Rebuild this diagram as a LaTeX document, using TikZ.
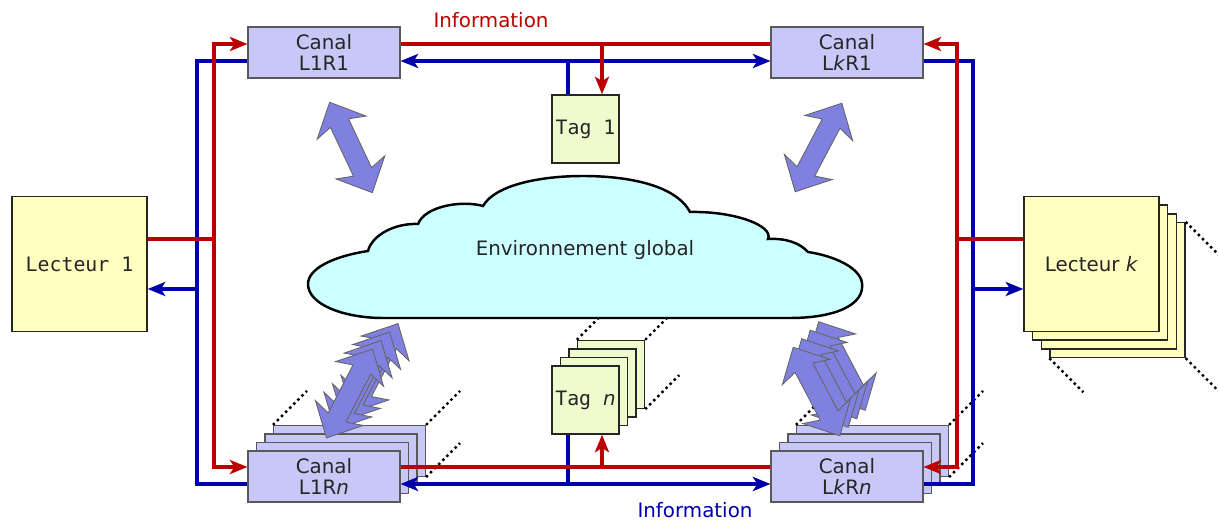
\documentclass[tikz,border=0pt]{standalone}
\usepackage{fontspec}
\setmainfont{DejaVu Sans}
\setsansfont{DejaVu Sans}
\setmonofont{DejaVu Sans Mono}
\usetikzlibrary{arrows.meta}
\definecolor{infored}{HTML}{BB0000}
\definecolor{infoblue}{HTML}{0000AA}
\definecolor{canalfill}{HTML}{C8C8F8}
\definecolor{lectfill}{HTML}{FFFFC0}
\definecolor{tagfill}{HTML}{EFFBCD}
\definecolor{envfill}{HTML}{CCFFFF}
\definecolor{wavefill}{HTML}{8080E0}

\begin{document}
\begin{tikzpicture}[x = 0.02cm, y = -0.02cm,
                    >={Stealth[length = 10pt, width = 8pt, inset = 2.5pt]}]
\tikzstyle{TextStyle}=[font = \fontsize{11.3}{12}\selectfont, text = black!85]
\tikzstyle{CanalStyle}=[TextStyle, shape = rectangle,
                        draw = black!65, line width = 0.6pt, fill = canalfill,
                        minimum width = 3.04cm, minimum height = 1.02cm,
                        inner sep = 0pt, align = center]
\tikzstyle{LecteurStyle}=[TextStyle, shape = rectangle,
                          draw = black!85, line width = 0.8pt, fill = lectfill,
                          minimum size = 2.7cm, inner sep = 0pt]
\tikzstyle{TagStyle}=[TextStyle, shape = rectangle,
                      draw = black!85, line width = 0.8pt, fill = tagfill,
                      minimum width = 1.34cm, minimum height = 1.36cm, inner sep = 0pt]
\tikzstyle{RedLine}=[draw = infored, line width = 1.9pt]
\tikzstyle{BlueLine}=[draw = infoblue, line width = 1.9pt]
\tikzstyle{DotStyle}=[draw = black, line width = 1.4pt, dash pattern = on 1.4pt off 1.9pt]
\tikzstyle{WaveStyle}=[fill = wavefill, draw = black!60, line width = 0.5pt]
\tikzstyle{EnvStyle}=[fill = envfill, draw = black, line width = 1.4pt]
\useasboundingbox (0,0) rectangle (1218,520);
\foreach \i in {3,2,1} {
  \node[CanalStyle] (c1n\i) at (324 + 8.5*\i, 476.5 - 8.5*\i) {};
  \node[CanalStyle] (ckn\i) at (847 + 8.5*\i, 476.5 - 8.5*\i) {};
  \node[TagStyle] (tn\i) at (585.5 + 8.5*\i, 400 - 8.5*\i) {};
  \node[LecteurStyle] (lk\i) at (1091.5 + 8.67*\i, 264 + 8.67*\i) {};
}
\node[CanalStyle] (c11) at (324,52.5) {Canal\\L1R1};
\node[CanalStyle] (ck1) at (847,52.5) {Canal\\L\textit{k}R1};
\node[CanalStyle] (c1n) at (324,476.5) {Canal\\L1R\textit{n}};
\node[CanalStyle] (ckn) at (847,476.5) {Canal\\L\textit{k}R\textit{n}};
\node[TagStyle] (t1) at (585.5,129) {\texttt{Tag 1}};
\node[TagStyle] (tn) at (585.5,400) {\texttt{Tag\ }\textit{n}};
\node[LecteurStyle] (l1) at (79.5,264) {\texttt{Lecteur 1}};
\node[LecteurStyle] (lk) at (1091.5,264) {Lecteur \textit{k}};
\foreach \s in {c1n3, ckn3, tn3} {
  \draw[DotStyle] (\s.north west) -- ++(34,-34);
  \draw[DotStyle] (\s.north east) -- ++(34,-34);
  \draw[DotStyle] (\s.south east) -- ++(34,-34);
}
\draw[DotStyle] (lk3.north east) -- ++(34,34);
\draw[DotStyle] (lk3.south west) -- ++(34,34);
\draw[DotStyle] (lk3.south east) -- ++(34,34);
\draw[EnvStyle] (383,318) -- (790,318)
  .. controls (835,318) and (865,305) .. (862,283)
  .. controls (860,268) and (835,256) .. (808,252)
  .. controls (800,243) and (786,238) .. (768,239)
  .. controls (774,226) and (735,211) .. (690,212)
  .. controls (675,184) and (625,176) .. (583,176)
  .. controls (540,176) and (495,185) .. (483,206)
  .. controls (462,200) and (425,206) .. (418,224)
  .. controls (395,223) and (372,235) .. (368,251)
  .. controls (335,256) and (308,268) .. (308,284)
  .. controls (308,305) and (345,318) .. (383,318) -- cycle;
\node[TextStyle] (env) at (585,250) {Environnement global};
\foreach \x/\y/\a/\n in {351/147.5/-64.7/0, 818.5/147.5/62.2/0,
                         349.5/393.5/62.6/3, 816.5/391.5/117.8/3}
  \foreach \i in {\n,...,0}
    \draw[WaveStyle, shift = {(\x + 8.5*\i, \y - 8.5*\i)}, rotate = \a]
      (50,0) -- (22,27) -- (27,10) -- (-27,10) -- (-22,27) -- (-50,0)
      -- (-22,-27) -- (-27,-10) -- (27,-10) -- (22,-27) -- cycle;
\coordinate (r11) at (214,44);
\coordinate (r1n) at (214,467);
\coordinate (b11) at (197,61);
\coordinate (b1n) at (197,484);
\coordinate (rk1) at (957,44);
\coordinate (rkn) at (957,467);
\coordinate (bk1) at (973,61);
\coordinate (bkn) at (973,484);
\coordinate (rt1) at (602,44);
\coordinate (bt1) at (568,61);
\coordinate (rtn) at (602,467);
\coordinate (btn) at (568,484);
\coordinate (rl1) at (214,239);
\coordinate (bl1) at (197,289);
\coordinate (rlk) at (957,239);
\coordinate (blk) at (973,289);
\draw[BlueLine] (c11.west |- b11) -- (b11) -- (b1n) -- (c1n.west |- b1n);
\draw[BlueLine] (ck1.east |- bk1) -- (bk1) -- (bkn) -- (ckn.east |- bkn);
\draw[BlueLine, ->] (bl1) -- (l1.east |- bl1);
\draw[BlueLine, ->] (blk) -- (lk.west |- blk);
\draw[BlueLine, <->] (c11.east |- bt1) -- (ck1.west |- bt1);
\draw[BlueLine] (t1.north -| bt1) -- (bt1);
\draw[BlueLine, <->] (c1n.east |- btn) -- (ckn.west |- btn);
\draw[BlueLine] (tn.south -| btn) -- (btn);
\draw[RedLine, <->] (c11.west |- r11) -- (r11) -- (r1n) -- (c1n.west |- r1n);
\draw[RedLine, <->] (ck1.east |- rk1) -- (rk1) -- (rkn) -- (ckn.east |- rkn);
\draw[RedLine] (l1.east |- rl1) -- (rl1);
\draw[RedLine] (lk.west |- rlk) -- (rlk);
\draw[RedLine] (c11.east |- rt1) -- (ck1.west |- rt1);
\draw[RedLine, ->] (rt1) -- (t1.north -| rt1);
\draw[RedLine] (c1n.east |- rtn) -- (ckn.west |- rtn);
\draw[RedLine, ->] (rtn) -- (tn.south -| rtn);
\node[TextStyle, text = infored] (info1) at (491,20) {Information};
\node[TextStyle, text = infoblue] (info2) at (695,510) {Information};
\end{tikzpicture}
\end{document}
